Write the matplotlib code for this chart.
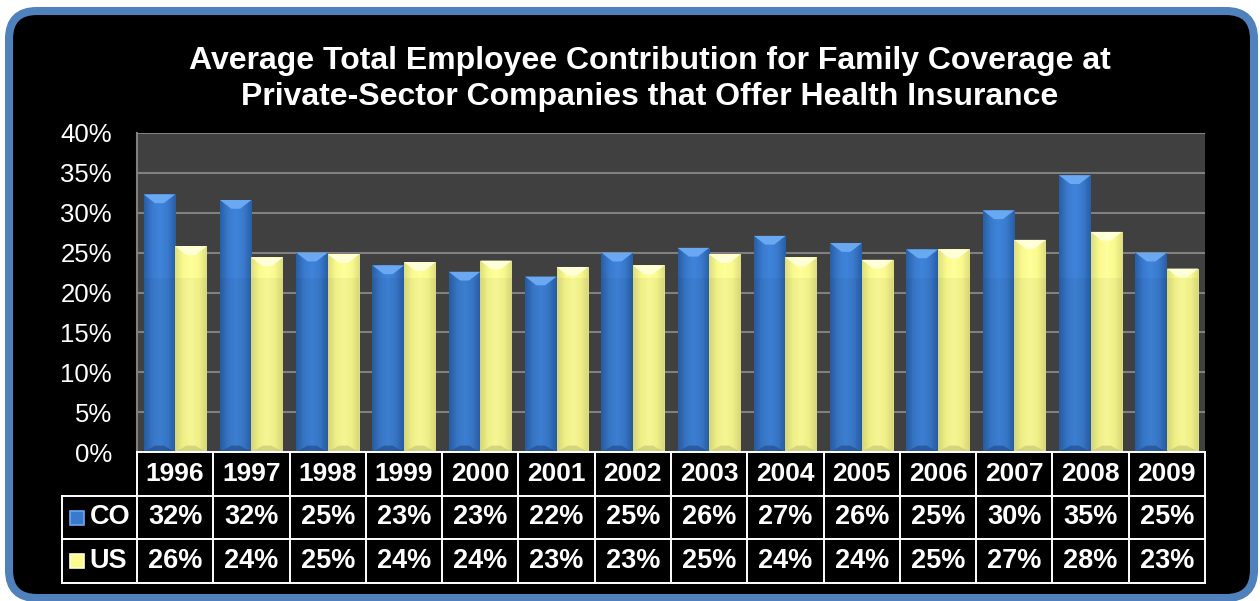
import matplotlib
matplotlib.use("Agg")
import matplotlib.pyplot as plt
from matplotlib.patches import Rectangle, Polygon, FancyBboxPatch
from matplotlib.colors import LinearSegmentedColormap
import numpy as np

plt.rcParams['font.family'] = ['Liberation Sans', 'DejaVu Sans']

years = ['1996', '1997', '1998', '1999', '2000', '2001', '2002',
         '2003', '2004', '2005', '2006', '2007', '2008', '2009']
co = [32.3, 31.6, 25.0, 23.4, 22.6, 22.0, 25.0, 25.6, 27.1, 26.2, 25.4, 30.3, 34.7, 25.0]
us = [25.8, 24.4, 24.8, 23.8, 24.0, 23.2, 23.4, 24.8, 24.4, 24.1, 25.4, 26.6, 27.6, 23.0]
series_names = ['CO', 'US']
title = ('Average Total Employee Contribution for Family Coverage at\n'
         'Private-Sector Companies that Offer Health Insurance')

# body, dark edge, light centre, top bevel, bottom bevel
styles = {
    'CO': dict(base='#3a7acc', edge='#285fa6', center='#3f84dc',
               top='#6aa8f2', bottom='#234f8f'),
    'US': dict(base='#fafa8e', edge='#dede80', center='#ffff9c',
               top='#ffffd8', bottom='#c9c97a'),
}

W, H = 1260, 601
fig = plt.figure(figsize=(W / 100, H / 100), dpi=100)
fig.patch.set_facecolor('white')

# rounded black panel with blue frame, drawn in pixel units
bg = fig.add_axes([0, 0, 1, 1], zorder=0)
bg.set_xlim(0, W)
bg.set_ylim(H, 0)
bg.axis('off')
bg.add_patch(FancyBboxPatch((9, 11), 1245, 587,
                            boxstyle='round,pad=0,rounding_size=28',
                            fc='black', ec='#4f81bd', lw=5.8))
bg.text(650, 79, title, ha='center', va='center', color='white',
        fontsize=23, fontweight='bold', linespacing=1.25)

# main chart
ax = fig.add_axes([137 / W, 149 / H, 1068 / W, 319 / H], zorder=2)
ax.set_facecolor('#404040')
n = len(years)
bw = 0.413
grad = np.linspace(0, 1, 64).reshape(1, -1)


def bevel_bar(ax, x0, w, h, st):
    rect = Rectangle((x0, 0), w, h, fc=st['base'], ec='none', zorder=3)
    ax.add_patch(rect)
    cmap = LinearSegmentedColormap.from_list(
        'b', [st['edge'], st['base'], st['center'], st['base'], st['edge']])
    im = ax.imshow(grad, cmap=cmap, extent=(x0, x0 + w, 0, h), aspect='auto',
                   zorder=3.1, interpolation='bicubic')
    im.set_clip_path(rect)
    # soft band on the lower part
    ax.add_patch(Rectangle((x0, 0), w, min(h, 21.8), fc='black', alpha=0.04,
                           ec='none', zorder=3.2))
    bh = 1.1
    ex = w * 0.36
    ax.add_patch(Polygon([(x0, h), (x0 + w, h), (x0 + w - ex, h - bh), (x0 + ex, h - bh)],
                         closed=True, fc=st['top'], ec='none', zorder=3.3))
    ax.add_patch(Polygon([(x0, 0), (x0 + w, 0), (x0 + w - ex, 0.8), (x0 + ex, 0.8)],
                         closed=True, fc=st['bottom'], ec='none', alpha=0.7, zorder=3.3))


for i in range(n):
    bevel_bar(ax, i - bw, bw, co[i], styles['CO'])
    bevel_bar(ax, i, bw, us[i], styles['US'])

ax.set_xlim(-0.5, n - 0.5)
ax.set_ylim(0, 40)
ax.set_yticks(np.arange(0, 41, 5))
ax.set_yticklabels([f'{v}%' for v in range(0, 41, 5)])
ax.tick_params(axis='y', length=0, pad=18, labelsize=18.5, labelcolor='white')
ax.set_xticks([])
ax.grid(axis='y', color='#808080', lw=1.5, zorder=1)
ax.set_axisbelow(True)
for s in ['top', 'right', 'bottom']:
    ax.spines[s].set_visible(False)
ax.spines['left'].set_color('#808080')
ax.spines['left'].set_linewidth(1.5)

# data table under the chart
tb = fig.add_axes([62 / W, 18 / H, 1143 / W, 131 / H], zorder=2)
tb.set_xlim(-0.5 - 75 / (1068 / n), n - 0.5)
tb.set_ylim(3, 0)
tb.axis('off')
lc, lw = 'white', 1.4
left = tb.get_xlim()[0]
tb.plot([-0.5, n - 0.5], [0, 0], color=lc, lw=lw, clip_on=False)
for r in (1, 2, 3):
    tb.plot([left, n - 0.5], [r, r], color=lc, lw=lw, clip_on=False)
for c in range(n + 1):
    tb.plot([c - 0.5, c - 0.5], [0, 3], color=lc, lw=lw, clip_on=False)
tb.plot([left, left], [1, 3], color=lc, lw=lw, clip_on=False)

for i, y in enumerate(years):
    tb.text(i, 0.5, y, ha='center', va='center', color='white',
            fontsize=19, fontweight='bold')
for r, (name, vals) in enumerate(zip(series_names, [co, us]), start=1):
    st = styles[name]
    tb.plot(left + 0.197, r + 0.5, marker='s', ms=10, mfc=st['base'],
            mec=st['top'], mew=1.2, clip_on=False)
    tb.text(left + 0.36, r + 0.5, name, ha='left', va='center', color='white',
            fontsize=19.5, fontweight='bold')
    for i, v in enumerate(vals):
        tb.text(i, r + 0.5, f'{round(v)}%', ha='center', va='center',
                color='white', fontsize=19.5, fontweight='bold')

fig.savefig('out.png', dpi=100, facecolor=fig.get_facecolor())
